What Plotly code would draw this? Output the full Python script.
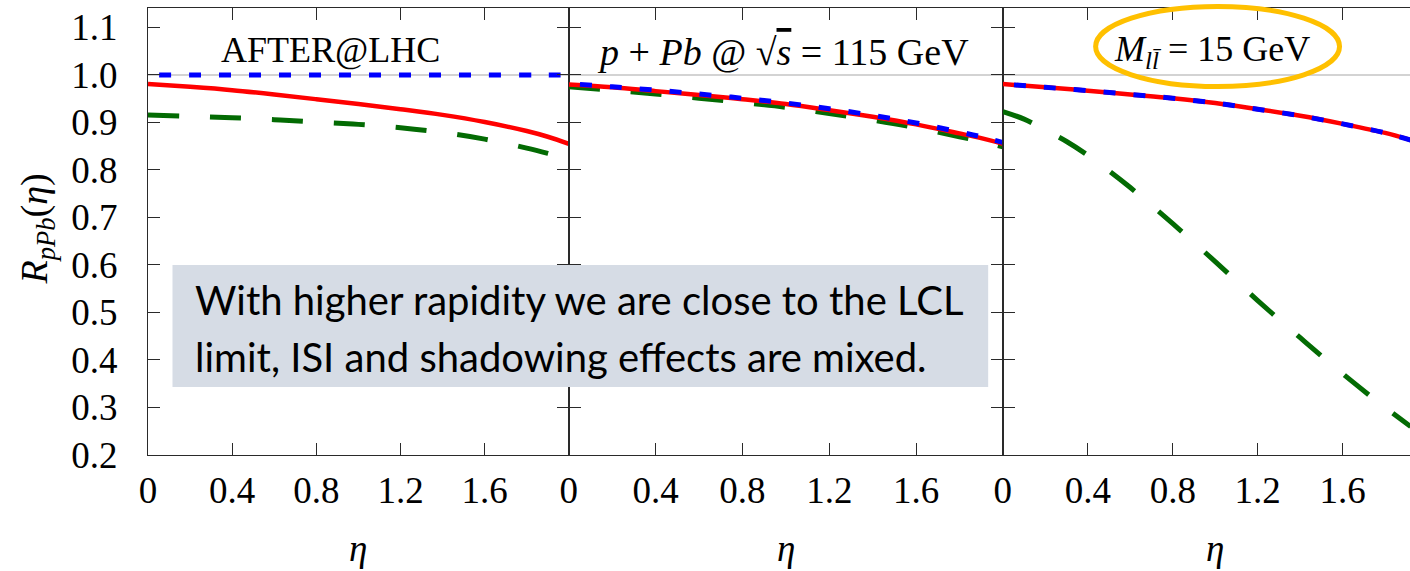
import plotly.graph_objects as go

# ---------------- data ----------------
eta_grid = [0.0, 0.2, 0.4, 0.6, 0.8, 1.0, 1.2, 1.4, 1.6, 1.8, 1.9, 2.0]

p1_red = [0.981, 0.975, 0.968, 0.959, 0.949, 0.939, 0.928, 0.916, 0.901, 0.882, 0.870, 0.855]
p1_blue = [1.0, 1.0, 1.0, 1.0, 1.0, 1.0, 1.0, 1.0, 1.0, 1.0, 1.0, 1.0]
p1_green = [0.916, 0.913, 0.910, 0.906, 0.901, 0.896, 0.889, 0.879, 0.865, 0.846, 0.835, 0.823]

p2_red = [0.980, 0.974, 0.966, 0.958, 0.949, 0.939, 0.926, 0.912, 0.896, 0.877, 0.867, 0.855]
p2_blue = [0.982, 0.975, 0.968, 0.960, 0.951, 0.941, 0.929, 0.915, 0.899, 0.880, 0.870, 0.858]
p2_green = [0.975, 0.968, 0.960, 0.951, 0.942, 0.932, 0.919, 0.905, 0.889, 0.870, 0.860, 0.849]

eta_p3 = [0.0, 0.2, 0.4, 0.6, 0.8, 1.0, 1.2, 1.4, 1.6, 1.8, 1.92]
p3_red = [0.981, 0.974, 0.967, 0.959, 0.951, 0.941, 0.928, 0.914, 0.897, 0.878, 0.863]
p3_blue = [0.981, 0.974, 0.967, 0.959, 0.951, 0.941, 0.928, 0.914, 0.897, 0.878, 0.863]
eta_p3_green = [0.0, 0.1, 0.2, 0.3, 0.4, 0.5, 0.6, 0.8, 1.0, 1.2, 1.4, 1.6, 1.8, 1.92]
p3_green = [0.923, 0.907, 0.884, 0.860, 0.831, 0.798, 0.763, 0.687, 0.607, 0.525, 0.447, 0.371, 0.300, 0.260]

x_tickvals = [0, 0.4, 0.8, 1.2, 1.6]
x_ticktext = ["0", "0.4", "0.8", "1.2", "1.6"]
y_tickvals = [0.2, 0.3, 0.4, 0.5, 0.6, 0.7, 0.8, 0.9, 1.0, 1.1]
y_ticktext = ["0.2", "0.3", "0.4", "0.5", "0.6", "0.7", "0.8", "0.9", "1.0", "1.1"]

panel_titles = ["AFTER@LHC",
                "<i>p</i> + <i>Pb</i> @ √<span style='text-decoration:overline'><i>s</i></span> = 115 GeV",
                "<i>M</i><sub><i>ll̄</i></sub> = 15 GeV"]
note_lines = ["With higher rapidity we are close to the LCL",
              "limit, ISI and shadowing effects are mixed."]

# ---------------- layout geometry ----------------
W, H = 1410, 571
ML, MT, MB = 147.5, 8, 116
PW = W - ML
PH = H - MT - MB


def px_x(p):
    return (p - ML) / PW


def px_y(p):
    return (H - MB - p) / PH


SERIF = "Liberation Serif, Times New Roman, Times, serif"
RED = "#FF0000"
BLUE = "#0000FF"
GREEN = "#036B03"
AX = "#2a2a2a"

fig = go.Figure()

panels = [
    ("x", "y", eta_grid, p1_red, eta_grid, p1_blue, eta_grid, p1_green),
    ("x2", "y2", eta_grid, p2_red, eta_grid, p2_blue, eta_grid, p2_green),
    ("x3", "y3", eta_p3, p3_red, eta_p3, p3_blue, eta_p3_green, p3_green),
]
for xa, ya, ex_r, r, ex_b, b, ex_g, g in panels:
    fig.add_trace(go.Scatter(x=ex_g, y=g, mode="lines", xaxis=xa, yaxis=ya,
                             line=dict(color=GREEN, width=5, dash="31px,31px", shape="spline"),
                             showlegend=False, hoverinfo="skip"))
    fig.add_trace(go.Scatter(x=ex_r, y=r, mode="lines", xaxis=xa, yaxis=ya,
                             line=dict(color=RED, width=4.5, shape="spline"),
                             showlegend=False, hoverinfo="skip"))
    fig.add_trace(go.Scatter(x=ex_b, y=b, mode="lines", xaxis=xa, yaxis=ya,
                             line=dict(color=BLUE, width=5, dash="0px,11px,12px,7px", shape="spline"),
                             showlegend=False, hoverinfo="skip"))

d1 = [0, px_x(568.5)]
d2 = [px_x(568.5), px_x(1002.7)]
d3 = [px_x(1002.7), 1]

tickfont = dict(family=SERIF, size=37, color="black")

common_x = dict(showline=True, linecolor=AX, linewidth=1, ticks="inside", ticklen=12,
                tickwidth=1, tickcolor=AX, mirror="ticks", tickvals=x_tickvals,
                ticktext=x_ticktext, tickfont=tickfont, showgrid=False, zeroline=False,
                ticklabelstandoff=3)
common_y = dict(showline=True, linecolor=AX, linewidth=1, ticks="inside", ticklen=12,
                tickwidth=1, tickcolor=AX, tickvals=y_tickvals, ticktext=y_ticktext,
                tickfont=tickfont, showgrid=False, zeroline=False, range=[0.2, 1.141],
                ticklabelstandoff=22)

fig.update_layout(
    width=W, height=H,
    margin=dict(l=ML, r=0, t=MT, b=MB, pad=0),
    paper_bgcolor="white", plot_bgcolor="white",
    font=dict(family=SERIF, color="black"),
    xaxis=dict(domain=d1, range=[0, 2.0], anchor="y", **common_x),
    xaxis2=dict(domain=d2, range=[0, 2.0], anchor="y2", **common_x),
    xaxis3=dict(domain=d3, range=[0, 1.917], anchor="y3", **common_x),
    yaxis=dict(anchor="x", mirror="ticks", **common_y),
    yaxis2=dict(anchor="x2", mirror="ticks", showticklabels=False, **common_y),
    yaxis3=dict(anchor="x3", mirror=False, showticklabels=False, **common_y),
)

# reference line at 1.0
fig.add_shape(type="line", xref="paper", yref="y", x0=0, x1=1, y0=1.0, y1=1.0,
              line=dict(color="#C4C4C4", width=1.5), layer="below")

# panel titles
title_pos = [("x", "y", 0.867, 1.0516, 36), ("x2", "y2", 0.988, 1.048, 38),
             ("x3", "y3", 0.985, 1.049, 36)]
for (xr, yr, xv, yv, fs), t in zip(title_pos, panel_titles):
    fig.add_annotation(text=t, xref=xr, yref=yr, x=xv, y=yv, showarrow=False,
                       xanchor="center", yanchor="middle",
                       font=dict(family=SERIF, size=fs, color="black"))

# eta axis labels
for xr in ["x", "x2", "x3"]:
    fig.add_annotation(text="<i>η</i>", xref=xr, yref="paper", x=1.0, y=px_y(548),
                       showarrow=False, xanchor="center", yanchor="middle",
                       font=dict(family=SERIF, size=37, color="black"))

# y axis label
fig.add_annotation(text="<i>R</i><sub><i>pPb</i></sub>(<i>η</i>)", xref="paper", yref="paper",
                   x=px_x(36), y=px_y(229), textangle=-90, showarrow=False,
                   xanchor="center", yanchor="middle",
                   font=dict(family=SERIF, size=38, color="black"))

# orange ellipse highlight
fig.add_shape(type="circle", xref="paper", yref="paper",
              x0=px_x(1095.5), x1=px_x(1339.5), y0=px_y(86.5), y1=px_y(6.5),
              line=dict(color="#FFC000", width=5), layer="above")

# note box
fig.add_shape(type="rect", xref="paper", yref="paper",
              x0=px_x(172), x1=px_x(988), y0=px_y(387), y1=px_y(265),
              fillcolor="#D6DCE5", line=dict(width=0), layer="above")
for line_text, yc in zip(note_lines, [300, 357]):
    fig.add_annotation(text=line_text, xref="paper", yref="paper", x=px_x(193), y=px_y(yc),
                       showarrow=False, xanchor="left", yanchor="middle",
                       font=dict(family="Lato", size=40, color="black"))

fig.write_html("out.html")
